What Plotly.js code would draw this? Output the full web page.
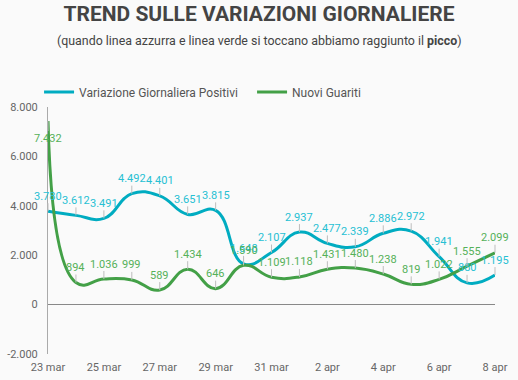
<!DOCTYPE html>
<html>
<head>
<meta charset="utf-8">
<script src="https://cdn.plot.ly/plotly-3.0.1.min.js"></script>
<style>
html,body{margin:0;padding:0;background:#fafafa;}
#chart{width:518px;height:380px;}
</style>
</head>
<body>
<div id="chart"></div>
<script>
var dates = ["23 mar","24 mar","25 mar","26 mar","27 mar","28 mar","29 mar","30 mar","31 mar","1 apr","2 apr","3 apr","4 apr","5 apr","6 apr","7 apr","8 apr"];
var positivi = [3780,3612,3491,4492,4401,3651,3815,1648,2107,2937,2477,2339,2886,2972,1941,880,1195];
var guariti = [7432,894,1036,999,589,1434,646,1590,1109,1118,1431,1480,1238,819,1022,1555,2099];
var xTicks = ["23 mar","25 mar","27 mar","29 mar","31 mar","2 apr","4 apr","6 apr","8 apr"];
var yTicks = [-2000,0,2000,4000,6000,8000];
var seriesNames = ["Variazione Giornaliera Positivi","Nuovi Guariti"];

function fmt(v){ var s = String(Math.abs(v)).replace(/\B(?=(\d{3})+(?!\d))/g,'.'); return (v<0?'-':'')+s; }

var lineBlue = '#00acc1', textBlue = '#26c0d3';
var lineGreen = '#43a047', textGreen = '#55b159';

var traces = [
  {x: dates, y: positivi, name: seriesNames[0], type:'scatter', mode:'lines',
   line:{color:lineBlue, width:3, shape:'spline', smoothing:1.3}, hoverinfo:'skip'},
  {x: dates, y: guariti, name: seriesNames[1], type:'scatter', mode:'lines',
   line:{color:lineGreen, width:3, shape:'spline', smoothing:1.3}, hoverinfo:'skip'}
];

var annotations = [];
function addLabels(vals, color){
  vals.forEach(function(v,i){
    var a = {x: dates[i], y: v, xref:'x', yref:'y', text: fmt(v),
      showarrow:true, arrowhead:0, arrowwidth:1, arrowcolor:'#bdbdbd',
      ax:0, ay:-15, standoff:0, font:{family:'Roboto', size:11, color:color}, borderpad:0};
    if (v > 7000) { a.ay = 17; }
    annotations.push(a);
  });
}
addLabels(positivi, textBlue);
addLabels(guariti, textGreen);

annotations.push({xref:'paper', yref:'paper', x:0.473, y:1.271, xanchor:'center', yanchor:'middle',
  text:'(quando linea azzurra e linea verde si toccano abbiamo raggiunto il <b>picco</b>)',
  showarrow:false, font:{family:'Roboto', size:12.4, color:'#444'}});

var layout = {
  width:518, height:380,
  margin:{l:48, r:23, t:107, b:26},
  paper_bgcolor:'#fafafa', plot_bgcolor:'#fafafa',
  font:{family:'Roboto', size:11, color:'#666'},
  title:{text:'<b>TREND SULLE VARIAZIONI GIORNALIERE</b>', font:{family:'Roboto', size:21, color:'#444'},
         x:0.5, xref:'container', y:1-14/380, yref:'container', yanchor:'middle'},
  showlegend:true,
  legend:{orientation:'h', x:-0.02, xanchor:'left', y:1.061, yanchor:'middle',
          entrywidth:168, entrywidthmode:'pixels',
          font:{family:'Roboto', size:12, color:'#555'}, bgcolor:'rgba(0,0,0,0)'},
  xaxis:{type:'category', range:[0,16], tickmode:'array', tickvals:xTicks, ticktext:xTicks,
         showgrid:false, zeroline:false, showline:false, ticks:'outside', ticklen:3, tickcolor:'rgba(0,0,0,0)',
         tickfont:{size:11, color:'#666'}, fixedrange:true},
  yaxis:{range:[-2000,8000], tickmode:'array', tickvals:yTicks, ticktext:yTicks.map(fmt),
         showgrid:false, zeroline:true, zerolinecolor:'#888', zerolinewidth:1,
         showline:true, linecolor:'#aaa', linewidth:1, ticks:'outside', ticklen:7, tickcolor:'rgba(0,0,0,0)',
         tickfont:{size:11, color:'#666'}, fixedrange:true},
  annotations: annotations
};

Plotly.newPlot('chart', traces, layout, {displayModeBar:false, staticPlot:true});
</script>
</body>
</html>
